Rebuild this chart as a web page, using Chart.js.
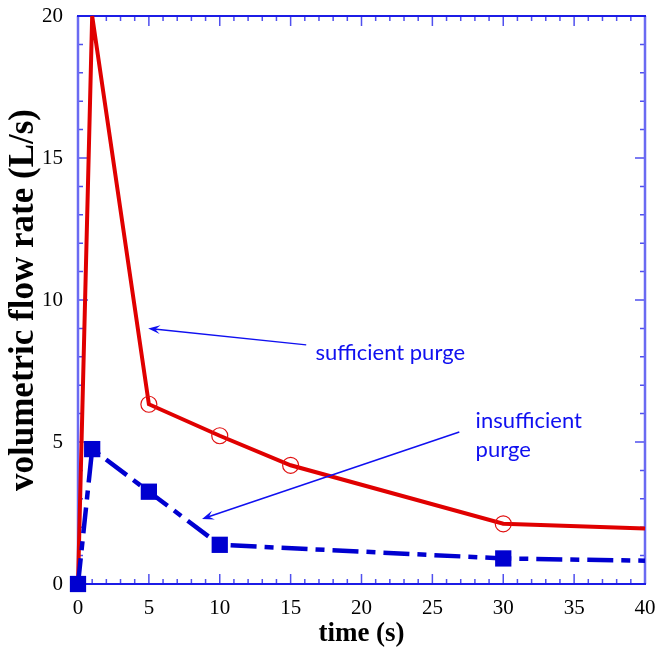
<!DOCTYPE html>
<html>
<head>
<meta charset="utf-8">
<script src="https://cdn.jsdelivr.net/npm/chart.js@4.4.1/dist/chart.umd.min.js"></script>
<style>
  html, body { margin: 0; padding: 0; background: #fff; }
</style>
</head>
<body>
<canvas id="flowChart" width="658" height="665"></canvas>
<script>
// data
const sufficientTime = [0, 1, 5, 10, 15, 30, 40];
const sufficientFlow = [0, 20, 6.33, 5.22, 4.18, 2.12, 1.95];
const sufficientMarked = [false, false, true, true, true, true, false];

const insufficientTime = [0, 1, 5, 10, 30, 40];
const insufficientFlow = [0, 4.75, 3.25, 1.38, 0.9, 0.82];
const insufficientMarked = [true, true, true, true, true, false];

const timeTicks = [0, 5, 10, 15, 20, 25, 30, 35, 40];
const flowTicks = [0, 5, 10, 15, 20];

// callouts, in data units (x = time, y = flow)
const sufficientNote = ['sufficient purge'];
const sufficientNoteAt = [16.75, 8.15];
const sufficientArrow = [16.1, 8.42, 4.95, 9.0];
const insufficientNote = ['insufficient', 'purge'];
const insufficientNoteAt = [28.05, 5.74];
const insufficientArrow = [26.9, 5.35, 8.75, 2.29];

const frameBlue = '#1c1ce6';
const tickBlue = '#5050ee';
const noteBlue = '#1010f0';

function toPoints(xs, ys) {
	return xs.map((x, i) => ({ x: x, y: ys[i] }));
}

// frame + inward ticks on all four sides
const frameTicks = {
	id: 'frameTicks',
	beforeDatasetsDraw(chart) {
		const { ctx, chartArea: a, scales } = chart;
		const xs = scales.x, ys = scales.y;
		ctx.save();
		ctx.lineWidth = 1.5;
		ctx.strokeStyle = tickBlue;
		for (let t = xs.min + 1; t < xs.max; t++) {
			const px = xs.getPixelForValue(t);
			const len = t % 5 === 0 ? 10 : 5;
			ctx.beginPath();
			ctx.moveTo(px, a.bottom); ctx.lineTo(px, a.bottom - len);
			ctx.moveTo(px, a.top); ctx.lineTo(px, a.top + len);
			ctx.stroke();
		}
		for (let v = ys.min + 1; v < ys.max; v++) {
			const py = ys.getPixelForValue(v);
			const len = v % 5 === 0 ? 10 : 5;
			ctx.beginPath();
			ctx.moveTo(a.left, py); ctx.lineTo(a.left + len, py);
			ctx.moveTo(a.right, py); ctx.lineTo(a.right - len, py);
			ctx.stroke();
		}
		ctx.lineWidth = 2.5;
		ctx.strokeStyle = '#6a6af2';
		ctx.beginPath();
		ctx.moveTo(a.left, a.top); ctx.lineTo(a.left, a.bottom);
		ctx.moveTo(a.right, a.top); ctx.lineTo(a.right, a.bottom);
		ctx.stroke();
		ctx.strokeStyle = frameBlue;
		ctx.lineWidth = 2;
		ctx.beginPath();
		ctx.moveTo(a.left - 1, a.top); ctx.lineTo(a.right + 1, a.top);
		ctx.moveTo(a.left - 1, a.bottom); ctx.lineTo(a.right + 1, a.bottom);
		ctx.stroke();
		ctx.restore();
	}
};

function drawArrow(ctx, x1, y1, x2, y2) {
	const ang = Math.atan2(y2 - y1, x2 - x1);
	ctx.beginPath();
	ctx.moveTo(x1, y1);
	ctx.lineTo(x2 - 6 * Math.cos(ang), y2 - 6 * Math.sin(ang));
	ctx.stroke();
	const hl = 12, hw = 4.5;
	ctx.beginPath();
	ctx.moveTo(x2, y2);
	ctx.lineTo(x2 - hl * Math.cos(ang) + hw * Math.sin(ang), y2 - hl * Math.sin(ang) - hw * Math.cos(ang));
	ctx.lineTo(x2 - 0.6 * hl * Math.cos(ang), y2 - 0.6 * hl * Math.sin(ang));
	ctx.lineTo(x2 - hl * Math.cos(ang) - hw * Math.sin(ang), y2 - hl * Math.sin(ang) + hw * Math.cos(ang));
	ctx.closePath();
	ctx.fill();
}

const callouts = {
	id: 'callouts',
	afterDatasetsDraw(chart) {
		const { ctx, scales } = chart;
		const xs = scales.x, ys = scales.y;
		const px = v => xs.getPixelForValue(v);
		const py = v => ys.getPixelForValue(v);
		ctx.save();
		ctx.strokeStyle = noteBlue;
		ctx.fillStyle = noteBlue;
		ctx.lineWidth = 1.5;
		[sufficientArrow, insufficientArrow].forEach(a => {
			drawArrow(ctx, px(a[0]), py(a[1]), px(a[2]), py(a[3]));
		});
		ctx.font = '22px Lato, "Noto Sans", sans-serif';
		ctx.textBaseline = 'middle';
		ctx.textAlign = 'left';
		[[sufficientNote, sufficientNoteAt], [insufficientNote, insufficientNoteAt]].forEach(([lines, at]) => {
			lines.forEach((s, i) => ctx.fillText(s, px(at[0]), py(at[1]) + i * 29));
		});
		ctx.restore();
	}
};

const ctx = document.getElementById('flowChart');
const flowChart = new Chart(ctx, {
	type: 'line',
	data: {
		datasets: [
			{
				label: 'insufficient purge',
				data: toPoints(insufficientTime, insufficientFlow),
				borderColor: '#0000d0',
				backgroundColor: '#0000d0',
				borderWidth: 4.5,
				borderDash: [26, 8, 9, 8],
				pointStyle: 'rect',
				pointRadius: c => insufficientMarked[c.dataIndex] ? 11.5 : 0,
				pointBorderWidth: 0,
				clip: false,
				order: 0
			},
			{
				label: 'sufficient purge',
				data: toPoints(sufficientTime, sufficientFlow),
				borderColor: '#e00000',
				backgroundColor: 'rgba(0,0,0,0)',
				borderWidth: 4,
				pointStyle: 'circle',
				pointRadius: c => sufficientMarked[c.dataIndex] ? 8 : 0,
				pointBorderColor: '#e01010',
				pointBorderWidth: 1.2,
				clip: false,
				order: 1
			}
		]
	},
	options: {
		responsive: false,
		animation: false,
		devicePixelRatio: 1,
		layout: { padding: { top: 16, right: 13, left: 0, bottom: 0 } },
		plugins: {
			legend: { display: false },
			tooltip: { enabled: false }
		},
		elements: { line: { tension: 0 } },
		scales: {
			x: {
				type: 'linear',
				min: 0,
				max: 40,
				afterBuildTicks: s => { s.ticks = timeTicks.map(v => ({ value: v })); },
				afterFit: s => { s.height = 81; s.paddingLeft = 0; s.paddingRight = 0; },
				grid: { display: false, drawTicks: false },
				border: { display: false },
				ticks: {
					padding: 12,
					color: '#000',
					font: { family: '"Liberation Serif", "Times New Roman", serif', size: 21 }
				},
				title: {
					display: true,
					text: 'time (s)',
					color: '#000',
					padding: { top: 0, bottom: 15 },
					font: { family: '"Liberation Serif", "Times New Roman", serif', size: 27, weight: 'bold' }
				}
			},
			y: {
				type: 'linear',
				min: 0,
				max: 20,
				afterBuildTicks: s => { s.ticks = flowTicks.map(v => ({ value: v })); },
				afterFit: s => { s.width = 78; s.paddingTop = 0; s.paddingBottom = 0; },
				grid: { display: false, drawTicks: false },
				border: { display: false },
				ticks: {
					padding: 15,
					color: '#000',
					font: { family: '"Liberation Serif", "Times New Roman", serif', size: 21 }
				},
				title: {
					display: true,
					text: 'volumetric flow rate (L/s)',
					color: '#000',
					padding: { top: 3, bottom: 0 },
					font: { family: '"Liberation Serif", "Times New Roman", serif', size: 35, weight: 'bold' }
				}
			}
		}
	},
	plugins: [frameTicks, callouts]
});
</script>
</body>
</html>
